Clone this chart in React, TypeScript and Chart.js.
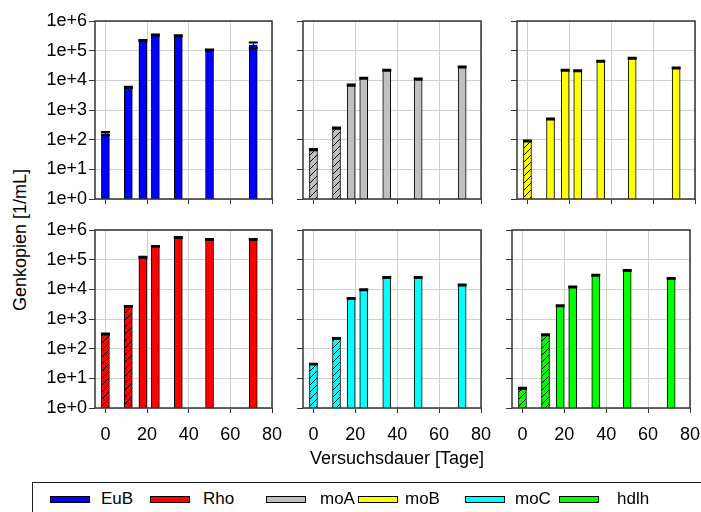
import React, { useEffect, useRef } from 'react';
import { Chart, registerables } from 'chart.js';

Chart.register(...registerables);
Chart.defaults.font.family = "'Liberation Sans', Arial, sans-serif";

// ---------- data ----------
const days = [0, 11, 18, 24, 35, 50, 71];
const xTickValues = [0, 20, 40, 60, 80];
const yTickValues = [1, 10, 100, 1000, 10000, 100000, 1000000];

const seriesNames = ['EuB', 'Rho', 'moA', 'moB', 'moC', 'hdlh'];
const seriesColors = ['#0000ff', '#ff0000', '#c0c0c0', '#ffff00', '#00ffff', '#00ff00'];

const eubValues = [160, 5800, 220000, 340000, 320000, 105000, 155000];
const eubErrors = [20, 250, 9000, 14000, 12000, 4000, 35000];
const eubHatched = [false, false, false, false, false, false, false];

const rhoValues = [310, 2650, 120000, 280000, 560000, 480000, 480000];
const rhoErrors = [12, 100, 5000, 10000, 20000, 17000, 17000];
const rhoHatched = [true, true, false, false, false, false, false];

const moAValues = [46, 245, 6900, 11800, 22000, 11000, 28000];
const moAErrors = [2, 12, 300, 500, 900, 450, 1100];
const moAHatched = [true, true, false, false, false, false, false];

const moBValues = [90, 500, 22000, 21000, 44000, 56000, 26000];
const moBErrors = [4, 20, 900, 800, 1800, 2200, 1000];
const moBHatched = [true, false, false, false, false, false, false];

const moCValues = [30, 220, 4900, 9700, 25000, 25000, 14000];
const moCErrors = [1, 10, 200, 400, 1000, 1000, 600];
const moCHatched = [true, true, false, false, false, false, false];

const hdlhValues = [4.6, 295, 2800, 12000, 30000, 43000, 23000];
const hdlhErrors = [0.2, 12, 110, 500, 1200, 1700, 900];
const hdlhHatched = [true, true, false, false, false, false, false];

const yTitle = 'Genkopien [1/mL]';
const xTitle = 'Versuchsdauer [Tage]';

// ---------- layout ----------
const AX_Y_W = 60;
const AX_X_H = 40;
const PAD_T = 16;
const PAD_R = 28;

type PanelCfg = {
  name: string;
  color: string;
  values: number[];
  errors: number[];
  hatched: boolean[];
  L: number; T: number; R: number; B: number;
  showX: boolean; showY: boolean;
};

const panels: PanelCfg[] = [
  { name: 'EuB', color: seriesColors[0], values: eubValues, errors: eubErrors, hatched: eubHatched, L: 95, T: 21, R: 272, B: 199, showX: false, showY: true },
  { name: 'moA', color: seriesColors[2], values: moAValues, errors: moAErrors, hatched: moAHatched, L: 303, T: 21, R: 481, B: 199, showX: false, showY: false },
  { name: 'moB', color: seriesColors[3], values: moBValues, errors: moBErrors, hatched: moBHatched, L: 517, T: 21, R: 695, B: 199, showX: false, showY: false },
  { name: 'Rho', color: seriesColors[1], values: rhoValues, errors: rhoErrors, hatched: rhoHatched, L: 95, T: 230, R: 272, B: 408, showX: true, showY: true },
  { name: 'moC', color: seriesColors[4], values: moCValues, errors: moCErrors, hatched: moCHatched, L: 303, T: 230, R: 481, B: 408, showX: true, showY: false },
  { name: 'hdlh', color: seriesColors[5], values: hdlhValues, errors: hdlhErrors, hatched: hdlhHatched, L: 512, T: 230, R: 690, B: 408, showX: true, showY: false },
];

const legendSwatchX = [50, 150, 266, 358, 465, 559];
const legendTextX = [101, 203, 320, 405, 515, 617];

function makeHatch(color: string): CanvasPattern | string {
  const s = 7;
  const c = document.createElement('canvas');
  c.width = s; c.height = s;
  const g = c.getContext('2d');
  if (!g) return color;
  g.fillStyle = color;
  g.fillRect(0, 0, s, s);
  g.strokeStyle = '#000';
  g.lineWidth = 1;
  g.beginPath();
  g.moveTo(0, s); g.lineTo(s, 0);
  g.moveTo(-1, 1); g.lineTo(1, -1);
  g.moveTo(s - 1, s + 1); g.lineTo(s + 1, s - 1);
  g.stroke();
  return g.createPattern(c, 'repeat') || color;
}

const overlayPlugin = {
  id: 'overlay',
  afterDatasetsDraw(chart: any) {
    const ctx = chart.ctx;
    const ys = chart.scales.y;
    const ds = chart.data.datasets[0];
    const meta = chart.getDatasetMeta(0);
    ctx.save();
    ctx.strokeStyle = '#000';
    meta.data.forEach((bar: any, i: number) => {
      const v = ds.data[i].y;
      const e = ds.errors[i];
      const yTop = ys.getPixelForValue(v + e);
      const yBot = ys.getPixelForValue(Math.max(v - e, 1));
      const half = bar.width / 2;
      ctx.lineWidth = 1;
      ctx.beginPath();
      ctx.moveTo(bar.x, yBot);
      ctx.lineTo(bar.x, yTop);
      ctx.stroke();
      ctx.lineWidth = 2;
      ctx.beginPath();
      ctx.moveTo(bar.x - half - 0.5, yTop);
      ctx.lineTo(bar.x + half + 0.5, yTop);
      ctx.moveTo(bar.x - half - 0.5, yBot);
      ctx.lineTo(bar.x + half + 0.5, yBot);
      ctx.stroke();
    });
    const a = chart.chartArea;
    ctx.strokeStyle = '#333';
    ctx.lineWidth = 1.5;
    ctx.strokeRect(a.left, a.top, a.right - a.left, a.bottom - a.top);
    ctx.restore();
  },
};

function Panel({ cfg }: { cfg: PanelCfg }) {
  const ref = useRef<HTMLCanvasElement>(null);
  const w = cfg.R - cfg.L + AX_Y_W + PAD_R;
  const h = cfg.B - cfg.T + PAD_T + AX_X_H;
  useEffect(() => {
    if (!ref.current) return;
    const chart = new Chart(ref.current, {
      type: 'bar',
      data: {
        datasets: [
          {
            label: cfg.name,
            data: days.map((d, i) => ({ x: d, y: cfg.values[i] })),
            errors: cfg.errors,
            backgroundColor: cfg.values.map((_, i) => (cfg.hatched[i] ? makeHatch(cfg.color) : cfg.color)),
            borderColor: '#000',
            borderWidth: 1,
            barThickness: 8,
          } as any,
        ],
      },
      options: {
        responsive: false,
        animation: false,
        layout: { padding: { top: PAD_T, right: PAD_R, left: 0, bottom: 0 } },
        plugins: { legend: { display: false }, tooltip: { enabled: false } },
        scales: {
          x: {
            type: 'linear',
            min: -5,
            max: 80,
            offset: false,
            afterBuildTicks: (s: any) => { s.ticks = xTickValues.map((v) => ({ value: v })); },
            afterFit: (s: any) => { s.height = AX_X_H; },
            ticks: { display: cfg.showX, color: '#000', font: { size: 18 }, padding: 11, maxRotation: 0, autoSkip: false },
            grid: { color: '#d0d0d0', tickColor: '#333', tickLength: 5, offset: false },
            border: { display: false },
          },
          y: {
            type: 'logarithmic',
            min: 1,
            max: 1000000,
            afterBuildTicks: (s: any) => { s.ticks = yTickValues.map((v) => ({ value: v })); },
            afterFit: (s: any) => { s.width = AX_Y_W; },
            ticks: {
              display: cfg.showY,
              color: '#000',
              font: { size: 18 },
              padding: 2,
              callback: (v: any) => '1e+' + Math.round(Math.log10(Number(v))),
            },
            grid: { color: '#d0d0d0', tickColor: '#333', tickLength: 6 },
            border: { display: false },
          },
        },
      } as any,
      plugins: [overlayPlugin],
    });
    return () => chart.destroy();
  }, []);
  return (
    <canvas
      ref={ref}
      width={w}
      height={h}
      style={{ position: 'absolute', left: cfg.L - AX_Y_W, top: cfg.T - PAD_T, width: w, height: h }}
    />
  );
}

export default function App() {
  const font = "'Liberation Sans', Arial, sans-serif";
  return (
    <div style={{ position: 'absolute', left: 0, top: 0, width: 701, height: 512, overflow: 'hidden', background: '#fff', fontFamily: font, color: '#000' }}>
      {panels.map((p) => <Panel key={p.name} cfg={p} />)}
      <div style={{ position: 'absolute', left: 20, top: 240, transform: 'translate(-50%, -50%) rotate(-90deg)', whiteSpace: 'nowrap', fontSize: 18 }}>
        {yTitle}
      </div>
      <div style={{ position: 'absolute', left: 397, top: 458, transform: 'translate(-50%, -50%)', whiteSpace: 'nowrap', fontSize: 18 }}>
        {xTitle}
      </div>
      <div style={{ position: 'absolute', left: 32, top: 482, width: 720, height: 60, border: '1px solid #222', boxSizing: 'border-box' }} />
      {seriesNames.map((n, i) => (
        <React.Fragment key={n}>
          <div style={{ position: 'absolute', left: legendSwatchX[i], top: 496, width: 40, height: 7, background: seriesColors[i], border: '1px solid #000', boxSizing: 'border-box' }} />
          <div style={{ position: 'absolute', left: legendTextX[i], top: 499, transform: 'translateY(-50%)', fontSize: 17, whiteSpace: 'nowrap', lineHeight: '20px' }}>
            {n}
          </div>
        </React.Fragment>
      ))}
    </div>
  );
}
